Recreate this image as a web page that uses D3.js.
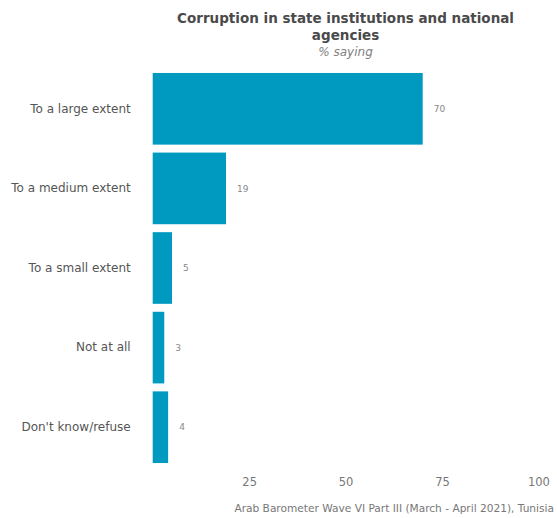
<!DOCTYPE html>
<html><head><meta charset="utf-8">
<script src="https://cdn.jsdelivr.net/npm/d3@7"></script>
<style>body{margin:0;background:#fff}svg{display:block}</style>
</head><body>
<script>
const categories = ["To a large extent","To a medium extent","To a small extent","Not at all","Don't know/refuse"];
const values = [70,19,5,3,4];
const tickValues = [25,50,75,100];
const titleLines = ["Corruption in state institutions and national","agencies"];
const subtitle = "% saying";
const caption = "Arab Barometer Wave VI Part III (March - April 2021), Tunisia";

const W=557,H=518;
const font="'DejaVu Sans', sans-serif";
const svg=d3.select("body").append("svg").attr("width",W).attr("height",H);
const x=d3.scaleLinear().domain([0,100]).range([152.7,538.4]);
const y=d3.scaleBand().domain(categories).range([69,467]).paddingInner(0.1).paddingOuter(0.05);

svg.append("g").selectAll("rect").data(values).join("rect")
  .attr("x",x(0)).attr("y",(d,i)=>y(categories[i]))
  .attr("width",d=>x(d)-x(0)).attr("height",y.bandwidth())
  .attr("fill","#0099c0");

svg.append("g").selectAll("text").data(values).join("text")
  .attr("x",d=>x(d)+11).attr("y",(d,i)=>y(categories[i])+y.bandwidth()/2)
  .attr("dy","0.35em").attr("font-family",font).attr("font-size",9).attr("fill","#888")
  .text(d=>d);

const ya=svg.append("g").attr("transform",`translate(${x(0)-22},0)`)
  .call(d3.axisLeft(y).tickSize(0).tickPadding(0));
ya.select(".domain").remove();
ya.selectAll("text").attr("font-family",font).attr("font-size",12).attr("fill","#555");

const xa=svg.append("g").attr("transform",`translate(0,470)`)
  .call(d3.axisBottom(x).tickValues(tickValues).tickSize(0).tickPadding(8));
xa.select(".domain").remove();
xa.selectAll("text").attr("font-family",font).attr("font-size",11.5).attr("fill","#777");

const cx=(x(0)+x(100))/2;
svg.append("g").selectAll("text").data(titleLines).join("text")
  .attr("x",cx).attr("y",(d,i)=>23+i*17).attr("text-anchor","middle")
  .attr("font-family",font).attr("font-weight","bold").attr("font-size",13.5).attr("fill","#4a4a4a")
  .text(d=>d);
svg.append("text").attr("x",cx).attr("y",56).attr("text-anchor","middle")
  .attr("font-family",font).attr("font-style","italic").attr("font-size",12).attr("fill","#808080")
  .text(subtitle);
svg.append("text").attr("x",554).attr("y",512).attr("text-anchor","end")
  .attr("font-family",font).attr("font-size",10.6).attr("fill","#777")
  .text(caption);
</script>
</body></html>
